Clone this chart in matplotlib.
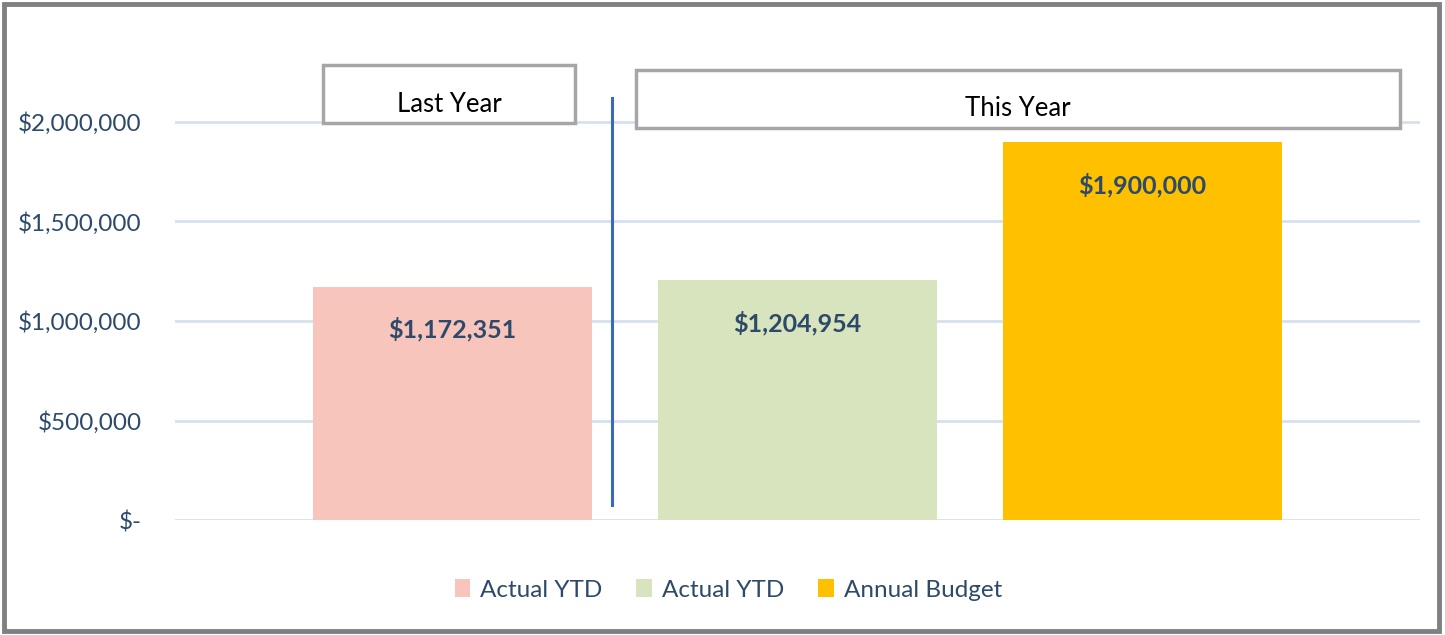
import matplotlib
matplotlib.use("Agg")
import matplotlib.pyplot as plt
from matplotlib.patches import Patch, Rectangle

# data
categories = ["Actual YTD", "Actual YTD", "Annual Budget"]
values = [1172351, 1204954, 1900000]
bar_colors = ["#F8C5BC", "#D7E4BD", "#FFC000"]
value_labels = ["$1,172,351", "$1,204,954", "$1,900,000"]
yticks = [0, 500000, 1000000, 1500000, 2000000]
ytick_labels = ["$-", "$500,000", "$1,000,000", "$1,500,000", "$2,000,000"]
group_labels = ["Last Year", "This Year"]

plt.rcParams["font.family"] = ["Lato", "DejaVu Sans"]
txt_col = "#2E4A6B"

fig = plt.figure(figsize=(14.45, 6.35), dpi=100)
ax = fig.add_axes([0.1211, 0.1811, 0.8616, 0.7244])

x = list(range(len(values)))
ax.bar(x, values, width=0.81, color=bar_colors, zorder=2)
ax.set_xlim(-0.804, 2.804)
ax.set_ylim(0, 2311500)

ax.set_yticks(yticks)
ax.set_yticklabels(ytick_labels, fontsize=17.5, color=txt_col)
ax.tick_params(axis="y", length=0, pad=24)
ax.set_xticks([])
ax.grid(axis="y", color="#D5E1EC", linewidth=2, zorder=0)
for s in ax.spines.values():
    s.set_visible(False)

# value labels inside bars
for xi, v, lab in zip(x, values, value_labels):
    ax.text(xi, v - 215000, lab, ha="center", va="center", fontsize=18,
            fontweight="bold", color=txt_col, zorder=3)

# divider between last year and this year
ax.plot([0.462, 0.462], [75000, 2120000], color="#3C6BB5", linewidth=2.2,
        zorder=3, clip_on=False)

# group header boxes (figure pixel positions)
W, H = 1445.0, 635.0
boxes = [(323, 65, 575, 123), (636, 70, 1400, 128)]
for (x0, y0, x1, y1), lab in zip(boxes, group_labels):
    fig.patches.append(Rectangle((x0 / W, 1 - y1 / H), (x1 - x0) / W, (y1 - y0) / H,
                                 transform=fig.transFigure, facecolor="white",
                                 edgecolor="#A6A6A6", linewidth=2.5, zorder=5))
    fig.text((x0 + x1) / 2 / W, 1 - ((y0 + y1) / 2 + 10) / H, lab, ha="center",
             va="center", fontsize=18.5, color="black", zorder=6)

# legend
handles = [Patch(facecolor=c, edgecolor="none") for c in bar_colors]
leg = fig.legend(handles, categories, loc="center", bbox_to_anchor=(0.504, 0.071),
                 ncol=3, frameon=False, fontsize=17.5, handlelength=0.65,
                 handleheight=0.75, handletextpad=0.4, columnspacing=1.4)
for t in leg.get_texts():
    t.set_color(txt_col)

# outer frame
fig.patches.append(Rectangle((0.003, 0.006), 0.993, 0.988, transform=fig.transFigure,
                             facecolor="none", edgecolor="#808080", linewidth=3.5))

fig.savefig("out.png", dpi=100)
